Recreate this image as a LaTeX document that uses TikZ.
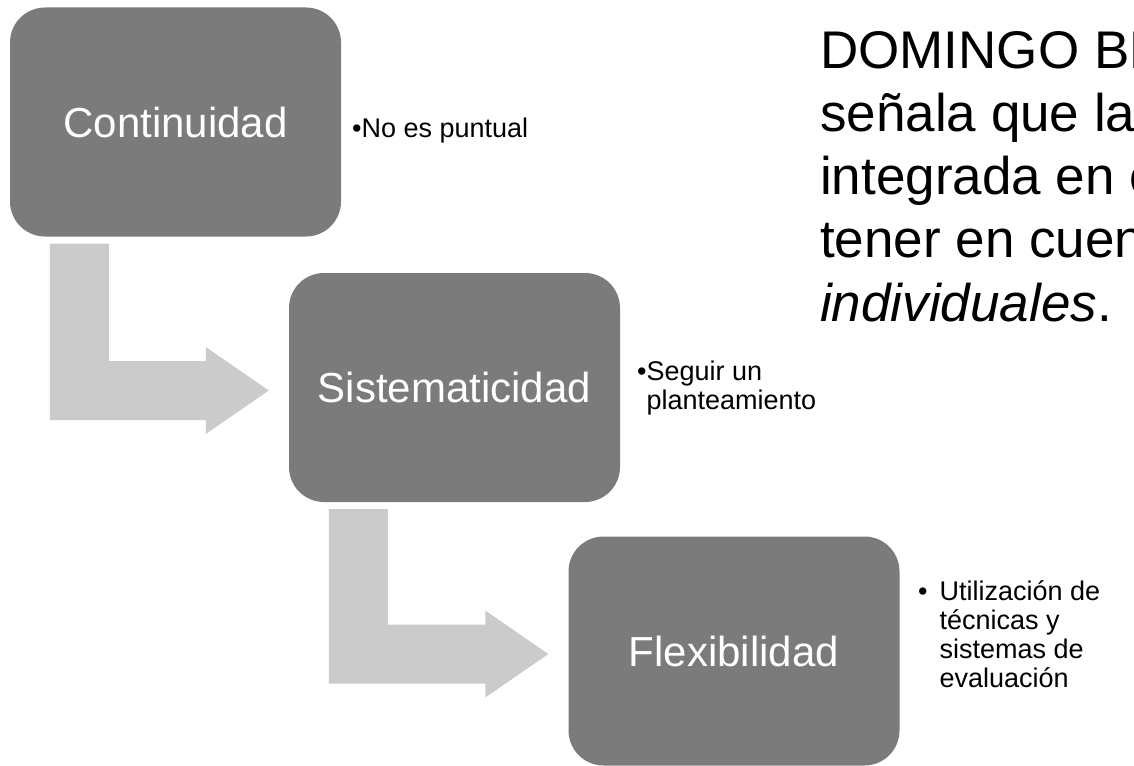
\documentclass[tikz,border=0pt]{standalone}
\usepackage{fontspec}
\setmainfont{Liberation Sans}
\usetikzlibrary{calc}
\definecolor{boxgray}{RGB}{123,123,123}
\definecolor{arrowgray}{RGB}{203,203,203}
\begin{document}
\begin{tikzpicture}[x=1pt,y=-1pt,
  stagebox/.style={fill=boxgray, rounded corners=35pt, minimum width=331pt, minimum height=229pt,
    text=white, font=\fontsize{42}{50}\selectfont, inner sep=0pt},
  connector/.style={fill=arrowgray},
  bullettext/.style={font=\fontsize{27}{29}\selectfont, text=black, inner sep=0pt, anchor=base west},
  quotetext/.style={font=\fontsize{53}{63}\selectfont, text=black, inner sep=0pt, anchor=base west}]
\useasboundingbox (0,0) rectangle (1134,765);

% stages
\node[stagebox] (b1) at (175.5,122) {Continuidad};
\node[stagebox] (b2) at (454.5,387.5) {Sistematicidad};
\node[stagebox] (b3) at (734,651) {Flexibilidad};

% bent arrows
\foreach \a/\b in {b1/b2, b2/b3}{
  \fill[connector] let \p1=(\a.south west), \p2=(\b.west) in
    (\x1+40pt,\y1-7pt) -- (\x1+99pt,\y1-7pt) -- (\x1+99pt,\y2-3pt+29.5pt)
    -- (\x2-83pt,\y2-3pt+29.5pt) -- (\x2-83pt,\y2-3pt+43.5pt) -- (\x2-20pt,\y2-3pt)
    -- (\x2-83pt,\y2-3pt-43.5pt) -- (\x2-83pt,\y2-3pt-29.5pt) -- (\x1+40pt,\y2-3pt-29.5pt) -- cycle;
}

% bullet texts
\node[bullettext] (t1) at (352,137) {\begin{tabular}[t]{@{}l@{}l@{}}•&No es puntual\end{tabular}};
\node[bullettext] (t2) at (637,380) {\begin{tabular}[t]{@{}l@{}l@{}}•&Seguir un\\ &planteamiento\end{tabular}};
\node[bullettext] (t3) at (918,600) {\begin{tabular}[t]{@{}l@{\hspace{12pt}}l@{}}•&Utilización de\\ &técnicas y\\ &sistemas de\\ &evaluación\end{tabular}};

% quote (cut at the right edge, as in the reference)
\begin{scope}
\clip (0,0) rectangle (1134,765);
\node[quotetext] (q) at (820,69) {\begin{tabular}[t]{@{}l@{}}DOMINGO BL\\señala que la\\integrada en e\\tener en cuen\\\textit{individuales}.\end{tabular}};
\end{scope}
\end{tikzpicture}
\end{document}
